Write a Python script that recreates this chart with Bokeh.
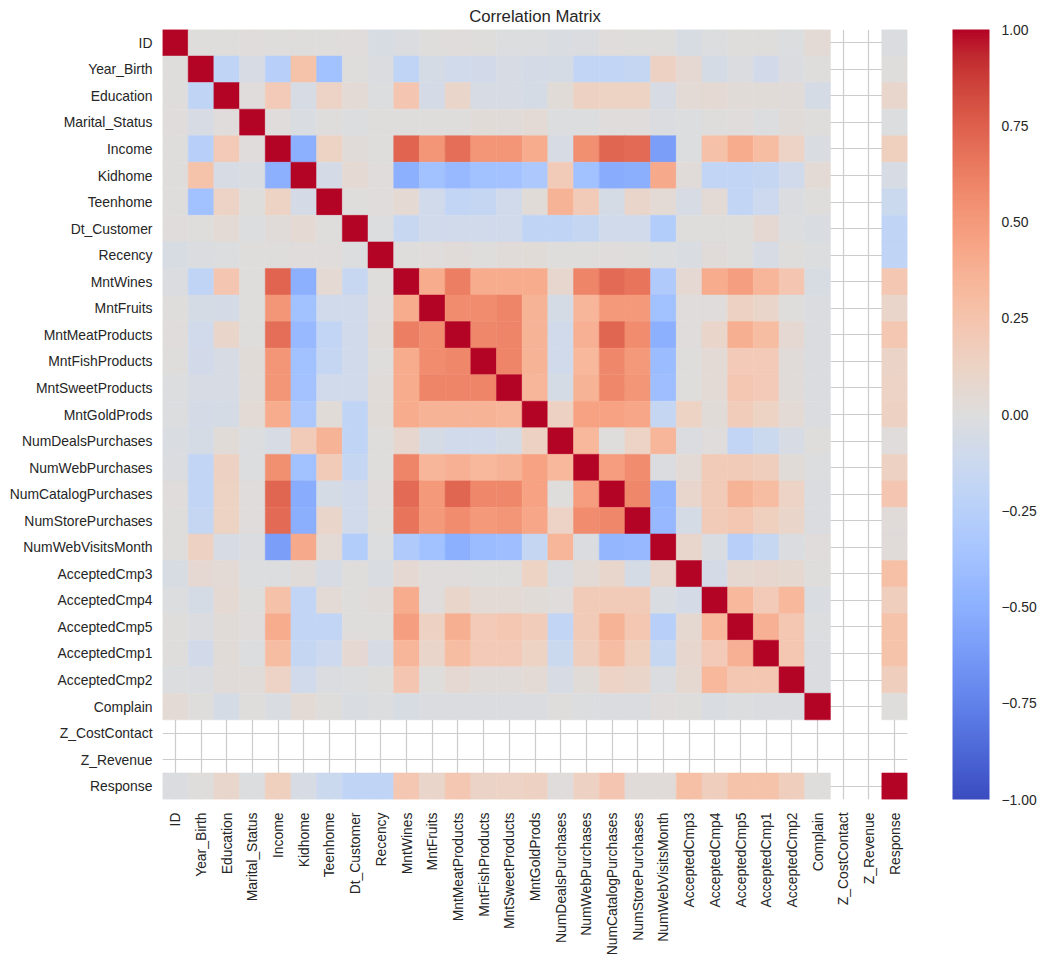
import numpy as np
from bokeh.plotting import figure
from bokeh.models import LinearColorMapper, ColorBar, FixedTicker, ColumnDataSource
from bokeh.embed import file_html
from bokeh.resources import INLINE

labels = ["ID", "Year_Birth", "Education", "Marital_Status", "Income", "Kidhome",
          "Teenhome", "Dt_Customer", "Recency", "MntWines", "MntFruits",
          "MntMeatProducts", "MntFishProducts", "MntSweetProducts", "MntGoldProds",
          "NumDealsPurchases", "NumWebPurchases", "NumCatalogPurchases",
          "NumStorePurchases", "NumWebVisitsMonth", "AcceptedCmp3", "AcceptedCmp4",
          "AcceptedCmp5", "AcceptedCmp1", "AcceptedCmp2", "Complain",
          "Z_CostContact", "Z_Revenue", "Response"]

# lower-triangle correlations: each row holds values against the earlier columns
# (None = undefined correlation, constant column)
r_ID = []
r_Year_Birth = [0.00]
r_Education = [0.00, -0.20]
r_Marital_Status = [0.01, -0.05, 0.01]
r_Income = [0.00, -0.25, 0.20, 0.01]
r_Kidhome = [0.00, 0.26, -0.05, -0.03, -0.50]
r_Teenhome = [0.00, -0.38, 0.12, 0.00, 0.13, -0.07]
r_Dt_Customer = [0.01, 0.00, 0.04, -0.01, 0.02, 0.05, 0.00]
r_Recency = [-0.04, -0.02, -0.01, 0.00, 0.00, 0.01, 0.01, -0.01]
r_MntWines = [-0.02, -0.20, 0.23, 0.00, 0.73, -0.50, 0.05, -0.15, 0.00]
r_MntFruits = [0.00, -0.06, -0.07, 0.00, 0.52, -0.38, -0.10, -0.10, 0.01, 0.40]
r_MntMeatProducts = [0.01, -0.10, 0.10, 0.00, 0.69, -0.43, -0.18, -0.10, 0.02, 0.62, 0.57]
r_MntFishProducts = [0.00, -0.08, -0.05, 0.03, 0.52, -0.38, -0.17, -0.10, 0.00, 0.40, 0.57, 0.58]
r_MntSweetProducts = [-0.01, -0.05, -0.05, 0.02, 0.52, -0.37, -0.10, -0.10, 0.02, 0.40, 0.60,
                      0.60, 0.60]
r_MntGoldProds = [-0.01, -0.07, -0.06, 0.04, 0.40, -0.32, 0.03, -0.20, 0.03, 0.40, 0.36, 0.36,
                  0.36, 0.35]
r_NumDealsPurchases = [-0.03, -0.06, 0.03, -0.01, -0.05, 0.19, 0.36, -0.20, 0.00, 0.08, -0.06,
                       -0.10, -0.10, -0.06, 0.14]
r_NumWebPurchases = [-0.02, -0.18, 0.14, -0.01, 0.55, -0.38, 0.19, -0.17, 0.00, 0.60, 0.34, 0.38,
                     0.33, 0.36, 0.46, 0.33]
r_NumCatalogPurchases = [0.01, -0.18, 0.13, 0.01, 0.72, -0.52, -0.06, -0.10, 0.01, 0.71, 0.50,
                         0.72, 0.58, 0.58, 0.46, 0.00, 0.48]
r_NumStorePurchases = [0.00, -0.17, 0.13, 0.01, 0.71, -0.51, 0.10, -0.10, 0.00, 0.67, 0.50, 0.57,
                       0.50, 0.52, 0.43, 0.12, 0.57, 0.58]
r_NumWebVisitsMonth = [0.00, 0.14, -0.05, -0.02, -0.60, 0.42, 0.04, -0.28, -0.01, -0.30, -0.38,
                       -0.50, -0.42, -0.40, -0.17, 0.34, -0.02, -0.46, -0.44]
r_AcceptedCmp3 = [-0.04, 0.06, 0.04, -0.01, -0.01, 0.02, -0.05, 0.00, -0.03, 0.06, 0.01, 0.01,
                  0.00, 0.00, 0.13, -0.02, 0.04, 0.09, -0.06, 0.09]
r_AcceptedCmp4 = [-0.01, -0.06, 0.05, 0.00, 0.27, -0.18, 0.04, 0.00, 0.02, 0.40, 0.01, 0.10,
                  0.04, 0.04, 0.03, 0.01, 0.19, 0.19, 0.19, -0.03, -0.07]
r_AcceptedCmp5 = [0.00, -0.02, 0.03, 0.01, 0.40, -0.18, -0.18, 0.00, 0.00, 0.47, 0.14, 0.39,
                  0.20, 0.22, 0.18, -0.18, 0.19, 0.36, 0.22, -0.25, 0.07, 0.33]
r_AcceptedCmp1 = [0.00, -0.08, 0.03, -0.01, 0.30, -0.17, -0.12, 0.06, -0.05, 0.35, 0.10, 0.30,
                  0.20, 0.20, 0.13, -0.13, 0.17, 0.30, 0.16, -0.16, 0.08, 0.20, 0.38]
r_AcceptedCmp2 = [-0.01, -0.02, 0.02, 0.02, 0.12, -0.10, -0.02, -0.01, 0.00, 0.23, 0.00, 0.06,
                  0.02, 0.02, 0.04, -0.05, 0.03, 0.12, 0.10, -0.02, 0.07, 0.33, 0.22, 0.22]
r_Complain = [0.04, 0.00, -0.06, 0.00, -0.03, 0.04, 0.00, -0.03, -0.01, -0.04, -0.02, -0.02,
              -0.02, -0.02, -0.02, 0.00, -0.01, -0.02, -0.02, 0.01, 0.00, -0.03, -0.01, -0.02,
              -0.02]
r_Z_CostContact = [None] * 26
r_Z_Revenue = [None] * 27
r_Response = [-0.02, 0.00, 0.09, -0.01, 0.16, -0.05, -0.13, -0.20, -0.20, 0.22, 0.10, 0.22,
              0.11, 0.12, 0.14, 0.01, 0.14, 0.23, 0.02, 0.02, 0.28, 0.17, 0.26, 0.26, 0.17,
              0.00, None, None]

rows = [r_ID, r_Year_Birth, r_Education, r_Marital_Status, r_Income, r_Kidhome, r_Teenhome,
        r_Dt_Customer, r_Recency, r_MntWines, r_MntFruits, r_MntMeatProducts,
        r_MntFishProducts, r_MntSweetProducts, r_MntGoldProds, r_NumDealsPurchases,
        r_NumWebPurchases, r_NumCatalogPurchases, r_NumStorePurchases, r_NumWebVisitsMonth,
        r_AcceptedCmp3, r_AcceptedCmp4, r_AcceptedCmp5, r_AcceptedCmp1, r_AcceptedCmp2,
        r_Complain, r_Z_CostContact, r_Z_Revenue, r_Response]
const_cols = {"Z_CostContact", "Z_Revenue"}

n = len(labels)
M = np.full((n, n), np.nan)
for i, row in enumerate(rows):
    for j, v in enumerate(row):
        if v is not None:
            M[i, j] = v
            M[j, i] = v
    if labels[i] not in const_cols:
        M[i, i] = 1.0

xs, ys, vs = [], [], []
for i in range(n):
    for j in range(n):
        if not np.isnan(M[i, j]):
            xs.append(labels[j]); ys.append(labels[i]); vs.append(float(M[i, j]))
src = ColumnDataSource(dict(x=xs, y=ys, v=vs))

# coolwarm colormap (Moreland diverging table), interpolated to 256 steps
cw = np.array([
    [59, 76, 192], [68, 90, 204], [77, 104, 215], [87, 117, 225], [98, 130, 234],
    [108, 142, 241], [119, 154, 247], [130, 165, 251], [141, 176, 254], [152, 185, 255],
    [163, 194, 255], [174, 201, 253], [184, 208, 249], [194, 213, 244], [204, 217, 238],
    [213, 219, 230], [221, 221, 221], [229, 216, 209], [236, 211, 197], [241, 204, 185],
    [245, 196, 173], [247, 187, 160], [247, 177, 148], [247, 166, 135], [244, 154, 123],
    [241, 141, 111], [236, 127, 99], [229, 112, 88], [222, 96, 77], [213, 80, 66],
    [203, 62, 56], [192, 40, 47], [180, 4, 38]], dtype=float)
pos = np.linspace(0, 1, len(cw))
t = np.linspace(0, 1, 256)
pal = []
for k in range(256):
    r = np.interp(t[k], pos, cw[:, 0]); g = np.interp(t[k], pos, cw[:, 1]); b = np.interp(t[k], pos, cw[:, 2])
    pal.append("#%02x%02x%02x" % (int(round(r)), int(round(g)), int(round(b))))

mapper = LinearColorMapper(palette=pal, low=-1, high=1)

FONT = "Liberation Sans"
TXT = "#262626"

p = figure(x_range=labels, y_range=labels[::-1], frame_width=745, frame_height=770,
           output_backend="svg", toolbar_location=None, min_border_left=0,
           min_border_right=0, min_border_top=0, min_border_bottom=10,
           title="Correlation Matrix", margin=(0, 0, 0, 6))
p.rect(x="x", y="y", width=1, height=1, source=src,
       fill_color={"field": "v", "transform": mapper},
       line_color={"field": "v", "transform": mapper}, line_width=0.5)

p.title.align = "center"
p.title.text_font = FONT
p.title.text_font_size = "16.7px"
p.title.text_font_style = "normal"
p.title.text_color = TXT
p.title.standoff = 8

p.outline_line_color = None
p.background_fill_color = "white"
p.border_fill_color = "white"
p.grid.grid_line_color = "#cccccc"
p.grid.grid_line_width = 1.2
p.axis.axis_line_color = None
p.axis.major_tick_line_color = None
p.axis.minor_tick_line_color = None
p.axis.major_label_text_font = FONT
p.axis.major_label_text_font_size = "13.9px"
p.axis.major_label_text_color = TXT
p.yaxis.major_tick_out = 0
p.yaxis.major_label_standoff = 10
p.xaxis.major_label_standoff = 7
p.xaxis.major_label_orientation = np.pi / 2

ticks = [-1, -0.75, -0.5, -0.25, 0, 0.25, 0.5, 0.75, 1]
overrides = {}
for tk in ticks:
    s = "%.2f" % abs(tk)
    overrides[tk] = ("\u2212" + s) if tk < 0 else s
cb = ColorBar(color_mapper=mapper, ticker=FixedTicker(ticks=ticks), width=37, height=770,
              padding=0, margin=0, location=(45, 0), major_tick_line_color=None,
              bar_line_color=None, major_label_text_font=FONT,
              major_label_text_font_size="13.9px", major_label_text_color=TXT,
              major_label_overrides=overrides, label_standoff=12,
              background_fill_color=None, border_line_color=None)
p.add_layout(cb, "right")

open("out.html", "w").write(file_html(p, INLINE))
